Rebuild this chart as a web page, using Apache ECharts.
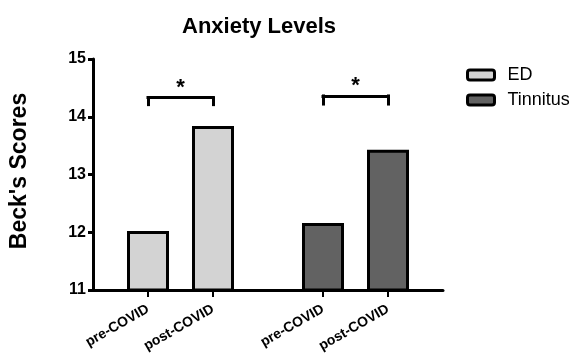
<!DOCTYPE html>
<html>
<head>
<meta charset="utf-8">
<script src="https://cdn.jsdelivr.net/npm/echarts@6/dist/echarts.min.js"></script>
<style>
  html, body { margin: 0; padding: 0; background: #fff; }
  #chart { width: 572px; height: 357px; }
</style>
</head>
<body>
<div id="chart"></div>
<script>
// Beck anxiety scores, before and after COVID, for two patient groups
const groups = ['ED', 'Tinnitus'];
const periods = ['pre-COVID', 'post-COVID'];
const edScores = [12.02, 13.84];
const tinnitusScores = [12.16, 13.43];
const yTicks = [11, 12, 13, 14, 15];
const significance = ['*', '*'];

const FONT = 'Liberation Sans, Arial, sans-serif';
const groupColors = ['#d3d3d3', '#626262'];

// Square bracket with a significance mark between the two bars of one group
function bracket(top, drop, mark) {
  const a = periods[0], b = periods[1];
  return {
    symbol: 'none',
    silent: true,
    animation: false,
    lineStyle: { color: '#000', width: 3, type: 'solid', cap: 'square' },
    label: { show: false },
    emphasis: { disabled: true },
    data: [
      [
        { coord: [a, top], label: { show: true, formatter: mark, position: 'middle', distance: -1,
            color: '#000', fontFamily: FONT, fontWeight: 'bold', fontSize: 22 } },
        { coord: [b, top] }
      ],
      [{ coord: [a, top] }, { coord: [a, drop] }],
      [{ coord: [b, top] }, { coord: [b, drop] }]
    ]
  };
}

const chart = echarts.init(document.getElementById('chart'), null, { renderer: 'canvas' });

const plotTop = 59, plotBottom = 67;
const hiddenY = (gi) => ({
  type: 'value', gridIndex: gi, min: yTicks[0], max: yTicks[yTicks.length - 1],
  interval: 1, show: false
});
const groupX = (gi) => ({
  type: 'category', gridIndex: gi, data: periods, boundaryGap: true,
  axisLine: { show: false },
  axisTick: { show: true, alignWithLabel: true, length: 7, lineStyle: { color: '#000', width: 2 } },
  axisLabel: { rotate: 30, margin: 18, color: '#000', fontFamily: FONT, fontWeight: 'bold', fontSize: 14 },
  splitLine: { show: false }
});

chart.setOption({
  animation: false,
  backgroundColor: '#fff',
  title: {
    text: 'Anxiety Levels',
    left: 177, top: 11,
    textStyle: { fontFamily: FONT, fontWeight: 'bold', fontSize: 22, color: '#000' }
  },
  legend: {
    data: groups,
    orient: 'vertical',
    left: 466, top: 66, padding: 0,
    icon: 'roundRect',
    itemWidth: 27, itemHeight: 10, itemGap: 7,
    itemStyle: { borderColor: '#000', borderWidth: 3 },
    textStyle: { fontFamily: FONT, fontSize: 18, color: '#000', lineHeight: 18, padding: [0, 0, 0, 8] },
    selectedMode: false
  },
  grid: [
    { left: 92, right: 129, top: plotTop, bottom: plotBottom },
    { left: 115.5, width: 130, top: plotTop, bottom: plotBottom },
    { left: 290.5, width: 130, top: plotTop, bottom: plotBottom }
  ],
  xAxis: [
    {
      type: 'category', gridIndex: 0, data: [''],
      axisLine: { show: true, lineStyle: { color: '#000', width: 3 } },
      axisTick: { show: false }, axisLabel: { show: false }
    },
    groupX(1),
    groupX(2)
  ],
  yAxis: [
    {
      type: 'value', gridIndex: 0,
      min: yTicks[0], max: yTicks[yTicks.length - 1], interval: 1,
      name: "Beck's Scores",
      nameLocation: 'middle', nameRotate: 90, nameGap: 62,
      nameTextStyle: { fontFamily: FONT, fontWeight: 'bold', fontSize: 23, color: '#000', padding: [0, 0, 0, 7] },
      axisLine: { show: true, lineStyle: { color: '#000', width: 3 } },
      axisTick: { show: true, length: 5, lineStyle: { color: '#000', width: 3 } },
      axisLabel: { margin: 7, color: '#000', fontFamily: FONT, fontWeight: 'bold', fontSize: 16 },
      splitLine: { show: false }
    },
    hiddenY(1),
    hiddenY(2)
  ],
  series: [
    {
      name: groups[0], type: 'bar', xAxisIndex: 1, yAxisIndex: 1,
      data: edScores, barWidth: 42,
      itemStyle: { color: groupColors[0], borderColor: '#000', borderWidth: 3 },
      emphasis: { disabled: true },
      markLine: bracket(14.33, 14.21, significance[0])
    },
    {
      name: groups[1], type: 'bar', xAxisIndex: 2, yAxisIndex: 2,
      data: tinnitusScores, barWidth: 42,
      itemStyle: { color: groupColors[1], borderColor: '#000', borderWidth: 3 },
      emphasis: { disabled: true },
      markLine: bracket(14.36, 14.22, significance[1])
    }
  ]
});
</script>
</body>
</html>
